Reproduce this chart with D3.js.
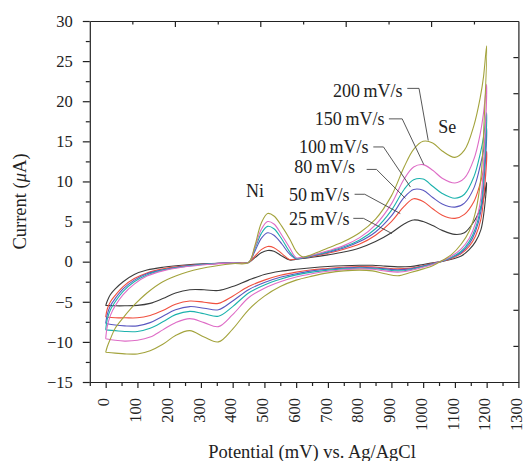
<!DOCTYPE html>
<html>
<head>
<meta charset="utf-8">
<script src="https://cdn.jsdelivr.net/npm/d3@7"></script>
<style>
  body { margin: 0; background: #fff; }
  svg { display: block; font-family: "Liberation Serif", "Times New Roman", serif; }
</style>
</head>
<body>
<div id="chart-container"></div>
<script>
// scan rates and their colours
const scanRates = ["25 mV/s", "50 mV/s", "80 mV/s", "100 mV/s", "150 mV/s", "200 mV/s"];
const colors = ["#3c3c3c", "#f0503f", "#5a58c0", "#1cb2ad", "#de6cc6", "#a3a33c"];

// forward (anodic) scan, potential in mV
const forwardX = [0, 5, 15, 30, 55, 90, 130, 180, 240, 320, 400, 450, 470, 490, 510, 530, 555, 580, 600, 620,
  650, 700, 750, 800, 850, 900, 940, 970, 1000, 1030, 1060, 1100, 1130, 1160, 1180, 1190, 1200];
const forward25 = [-5.5, -4.9, -4.1, -3.4, -2.5, -1.6, -1.05, -0.7, -0.45, -0.25, -0.15, -0.1, 0.5, 1.1, 1.4, 1.3, 0.7, 0.2, 0.3, 0.4,
  0.55, 0.85, 1.2, 1.7, 2.5, 3.6, 4.7, 5.2, 5.0, 4.5, 3.9, 3.4, 3.6, 5.0, 6.6, 7.8, 9.9];
const forward50 = [-6.9, -5.9, -5.0, -4.2, -3.1, -2.1, -1.4, -0.9, -0.55, -0.3, -0.15, -0.1, 0.7, 1.5, 1.9, 1.75, 1.0, 0.25, 0.35, 0.45,
  0.65, 1.05, 1.55, 2.2, 3.3, 5.0, 6.9, 7.85, 7.5, 6.6, 5.8, 5.4, 5.9, 7.5, 9.8, 11.4, 13.75];
const forward80 = [-7.7, -6.6, -5.5, -4.6, -3.4, -2.3, -1.5, -1.0, -0.6, -0.3, -0.15, -0.1, 1.3, 2.9, 3.6, 3.3, 2.2, 0.9, 0.35, 0.45,
  0.7, 1.15, 1.7, 2.5, 3.7, 5.7, 8.0, 9.0, 8.9, 8.0, 7.2, 6.8, 7.3, 9.2, 12.0, 13.8, 16.7];
const forward100 = [-8.5, -7.2, -6.0, -5.0, -3.7, -2.5, -1.65, -1.05, -0.65, -0.3, -0.15, -0.1, 1.6, 3.5, 4.4, 4.1, 2.8, 1.2, 0.4, 0.5,
  0.75, 1.25, 1.85, 2.7, 4.1, 6.4, 9.0, 10.2, 10.3, 9.4, 8.5, 7.9, 8.4, 10.6, 13.5, 15.5, 18.6];
const forward150 = [-9.6, -8.1, -6.7, -5.5, -4.1, -2.8, -1.8, -1.15, -0.7, -0.35, -0.15, -0.1, 1.8, 4.0, 5.0, 4.7, 3.3, 1.7, 0.5, 0.55,
  0.8, 1.35, 2.0, 3.0, 4.6, 7.2, 10.3, 11.8, 12.1, 11.4, 10.4, 9.8, 10.4, 12.8, 16.0, 18.5, 22.1];
const forward200 = [-11.3, -10.6, -9.6, -8.3, -7.0, -5.4, -3.9, -2.5, -1.5, -0.7, -0.25, -0.1, 2.0, 4.8, 6.0, 5.7, 4.4, 2.8, 1.3, 0.6,
  0.9, 1.7, 2.5, 3.6, 5.3, 8.2, 11.8, 14.0, 15.0, 14.8, 13.8, 13.0, 13.9, 17.0, 20.5, 23.0, 26.9];

// reverse (cathodic) scan
const reverseX = [1200, 1192, 1182, 1165, 1145, 1120, 1090, 1060, 1030, 1000, 960, 920, 880, 840, 800, 750, 700, 650,
  600, 550, 500, 450, 400, 355, 310, 265, 220, 180, 140, 100, 60, 30, 0];
const reverse25 = [9.9, 6.3, 4.0, 2.5, 1.5, 0.7, 0.3, 0.03, -0.15, -0.35, -0.6, -0.65, -0.55, -0.45, -0.45, -0.5, -0.6, -0.75,
  -0.95, -1.2, -1.6, -2.3, -3.1, -3.6, -3.5, -3.5, -3.9, -4.6, -5.2, -5.45, -5.5, -5.5, -5.45];
const reverse50 = [13.75, 8.5, 5.3, 3.2, 1.9, 1.0, 0.4, 0.05, -0.2, -0.5, -0.8, -0.9, -0.8, -0.65, -0.6, -0.7, -0.85, -1.0,
  -1.3, -1.7, -2.3, -3.1, -4.3, -5.2, -5.05, -4.9, -5.3, -6.1, -6.7, -7.0, -7.0, -7.0, -6.9];
const reverse80 = [16.7, 10.3, 6.3, 3.8, 2.2, 1.15, 0.5, 0.07, -0.25, -0.55, -0.9, -1.0, -0.9, -0.75, -0.7, -0.8, -0.95, -1.15,
  -1.5, -1.95, -2.6, -3.5, -4.9, -6.0, -5.8, -5.6, -6.0, -6.8, -7.6, -8.0, -8.0, -7.9, -7.7];
const reverse100 = [18.6, 11.5, 7.0, 4.2, 2.5, 1.3, 0.55, 0.08, -0.3, -0.6, -1.0, -1.15, -1.0, -0.85, -0.8, -0.9, -1.05, -1.3,
  -1.65, -2.2, -2.9, -3.9, -5.6, -6.8, -6.5, -6.2, -6.6, -7.5, -8.3, -8.7, -8.7, -8.6, -8.5];
const reverse150 = [22.1, 13.5, 8.0, 4.8, 2.9, 1.6, 0.7, 0.1, -0.35, -0.7, -1.1, -1.3, -1.15, -0.95, -0.9, -1.0, -1.2, -1.5,
  -1.9, -2.5, -3.3, -4.5, -6.6, -8.1, -7.6, -7.1, -7.6, -8.5, -9.4, -9.8, -9.9, -9.8, -9.6];
const reverse200 = [26.9, 17.5, 10.5, 6.2, 3.8, 2.2, 0.9, 0.15, -0.5, -0.9, -1.35, -1.75, -1.5, -1.15, -1.05, -1.15, -1.4, -1.8,
  -2.3, -3.1, -4.3, -6.0, -8.4, -10.0, -9.4, -8.6, -9.2, -10.3, -11.1, -11.5, -11.5, -11.4, -11.3];

const forwardSeries = [forward25, forward50, forward80, forward100, forward150, forward200];
const reverseSeries = [reverse25, reverse50, reverse80, reverse100, reverse150, reverse200];

// axis ticks
const xTicks = [0, 100, 200, 300, 400, 500, 600, 700, 800, 900, 1000, 1100, 1200, 1300];
const xMinorTicks = [-50, 50, 150, 250, 350, 450, 550, 650, 750, 850, 950, 1050, 1150, 1250];
const yTicks = [-15, -10, -5, 0, 5, 10, 15, 20, 25, 30];
const yMinorTicks = [-12.5, -7.5, -2.5, 2.5, 7.5, 12.5, 17.5, 22.5, 27.5];
const topTicks = [84, 218, 353, 487, 622, 756, 891, 1025, 1160];
const rightTicks = [-10.5, -6, -1.5, 3, 7.5, 12, 16.5, 21, 25.5];

// labels: text end (mV, uA) and leader line points
const rateLabelX = [768, 768, 785, 828, 878, 935];
const rateLabelY = [4.6, 7.6, 11.1, 13.5, 17.0, 20.5];
const leaders = [
  [[780, 5.4], [812, 5.4], [902, 3.5]],
  [[784, 8.4], [816, 8.4], [928, 6.0]],
  [[822, 11.5], [853, 11.5], [944, 7.9]],
  [[843, 14.3], [875, 14.3], [960, 9.3]],
  [[892, 17.8], [934, 17.8], [1002, 12.1]],
  [[950, 21.6], [987, 21.6], [1016, 15.1]]
];
const peakLabels = ["Ni", "Se"];
const peakLabelX = [470, 1076];
const peakLabelY = [8.0, 16.0];

let margin = { top: 21, right: 7.6, bottom: 79, left: 89.8 },
  width = 526 - margin.left - margin.right,
  height = 461 - margin.top - margin.bottom;

let svg = d3.select("#chart-container").append("svg")
  .attr("width", width + margin.left + margin.right)
  .attr("height", height + margin.top + margin.bottom)
  .append("g")
  .attr("transform", "translate(" + margin.left + "," + margin.top + ")");

let x = d3.scaleLinear().domain([-50, 1300]).range([0, width]);
let y = d3.scaleLinear().domain([-15, 30]).range([height, 0]);

let axisColor = "#222";

// bottom axis
let xAxis = svg.append("g")
  .attr("transform", "translate(0," + height + ")")
  .call(d3.axisBottom(x).tickValues(xTicks).tickSize(6).tickSizeOuter(0).tickFormat(d3.format("d")));
xAxis.selectAll("text")
  .attr("transform", "rotate(-90)")
  .attr("x", -16)
  .attr("y", 0)
  .attr("dy", "0.2em")
  .style("text-anchor", "end");
svg.append("g")
  .attr("transform", "translate(0," + height + ")")
  .call(d3.axisBottom(x).tickValues(xMinorTicks).tickSize(4).tickFormat(""))
  .select(".domain").remove();

// left axis
svg.append("g")
  .call(d3.axisLeft(y).tickValues(yTicks).tickSize(7).tickSizeOuter(0).tickPadding(10));
svg.append("g")
  .call(d3.axisLeft(y).tickValues(yMinorTicks).tickSize(4).tickFormat(""))
  .select(".domain").remove();

// top and right frame with inward ticks
svg.append("g")
  .call(d3.axisTop(x).tickValues(topTicks).tickSize(0).tickSizeOuter(0).tickFormat(""))
  .selectAll(".tick line")
  .attr("y2", (d, i) => i % 2 === 1 ? 6 : 3.5);
svg.append("g")
  .attr("transform", "translate(" + width + ",0)")
  .call(d3.axisRight(y).tickValues(rightTicks).tickSize(-5).tickSizeOuter(0).tickFormat(""));

svg.selectAll(".domain, .tick line").attr("stroke", axisColor).attr("stroke-width", 1.2);
svg.selectAll(".tick text")
  .attr("fill", "#222")
  .style("font-family", "'Liberation Serif', serif")
  .style("font-size", "16.5px");

// axis titles
svg.append("text")
  .attr("x", x(650))
  .attr("y", height + 76)
  .style("text-anchor", "middle")
  .style("font-size", "18.5px")
  .attr("fill", "#222")
  .text("Potential (mV) vs. Ag/AgCl");

let yTitle = svg.append("text")
  .attr("transform", "rotate(-90)")
  .attr("x", -y(7.5))
  .attr("y", -64)
  .style("text-anchor", "middle")
  .style("font-size", "18.5px")
  .attr("fill", "#222");
yTitle.append("tspan").text("Current (");
yTitle.append("tspan").style("font-style", "italic").text("\u03bc");
yTitle.append("tspan").text("A)");

// voltammograms: forward scan followed by reverse scan
let line = d3.line()
  .x(d => x(d[0]))
  .y(d => y(d[1]))
  .curve(d3.curveCatmullRom.alpha(0.5));

for (let i = 0; i < scanRates.length; i++) {
  let pts = forwardX.map((v, j) => [v, forwardSeries[i][j]])
    .concat(reverseX.map((v, j) => [v, reverseSeries[i][j]]).slice(1));
  svg.append("path")
    .attr("d", line(pts))
    .attr("fill", "none")
    .attr("stroke", colors[i])
    .attr("stroke-width", 1.1);
}

// leader lines and scan rate labels
let leaderLine = d3.line().x(d => x(d[0])).y(d => y(d[1]));
for (let i = 0; i < scanRates.length; i++) {
  svg.append("path")
    .attr("d", leaderLine(leaders[i]))
    .attr("fill", "none")
    .attr("stroke", "#444")
    .attr("stroke-width", 0.9);
  svg.append("text")
    .attr("x", x(rateLabelX[i]))
    .attr("y", y(rateLabelY[i]))
    .style("text-anchor", "end")
    .style("font-size", "18px")
    .attr("fill", "#222")
    .text(scanRates[i].replace(" ", "\u2009"));
}

for (let i = 0; i < peakLabels.length; i++) {
  svg.append("text")
    .attr("x", x(peakLabelX[i]))
    .attr("y", y(peakLabelY[i]))
    .style("text-anchor", "middle")
    .style("font-size", "18px")
    .attr("fill", "#222")
    .text(peakLabels[i]);
}
</script>
</body>
</html>
